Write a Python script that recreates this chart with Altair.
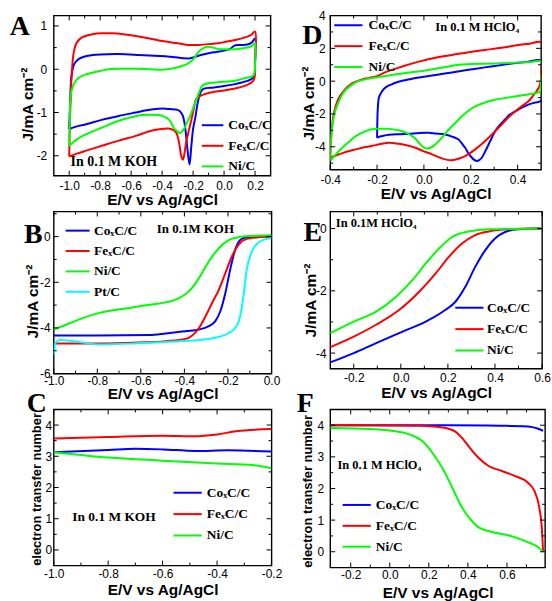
import altair as alt
import pandas as pd

NAMES3 = ["CoₓC/C", "FeₓC/C", "Ni/C"]
NAMES4 = ["CoₓC/C", "FeₓC/C", "Ni/C", "Pt/C"]
COLORS3 = ["#0000ff", "#ff0000", "#00ff00"]
COLORS4 = ["#0000ff", "#ff0000", "#00ff00", "#00ffff"]

XTITLE = "E/V vs Ag/AgCl"
JTITLE = "J/mA cm⁻²"
NTITLE = "electron transfer number"

# ---------------- Panel A : CV in 0.1 M KOH ----------------
A_CO_E = [-1.0, -0.994, -0.985, -0.968, -0.945, -0.926, -0.88, -0.8, -0.68, -0.55, -0.45, -0.35, -0.23, -0.2,
          -0.15, -0.1, -0.05, 0.0, 0.04, 0.064, 0.1, 0.15, 0.18, 0.2,
          0.2, 0.195, 0.18, 0.15, 0.1, 0.064, 0.0, -0.064, -0.13, -0.15, -0.17, -0.185, -0.2, -0.212, -0.223,
          -0.235, -0.245, -0.255, -0.266, -0.28, -0.3, -0.35, -0.4, -0.5, -0.57, -0.68, -0.79, -0.89, -0.95, -1.0]
A_CO_J = [-1.38, -0.77, -0.15, 0.115, 0.22, 0.26, 0.31, 0.34, 0.35, 0.33, 0.31, 0.29, 0.25, 0.27,
          0.33, 0.37, 0.4, 0.43, 0.47, 0.54, 0.56, 0.57, 0.62, 0.71,
          0.12, -0.15, -0.22, -0.27, -0.32, -0.35, -0.39, -0.42, -0.45, -0.52, -0.77, -1.1, -1.38, -1.8, -2.2,
          -1.9, -1.54, -1.25, -1.08, -0.99, -0.94, -0.92, -0.91, -0.95, -1.0, -1.08, -1.17, -1.27, -1.32, -1.38]
A_FE_E = [-1.0, -0.995, -0.985, -0.97, -0.95, -0.915, -0.85, -0.78, -0.72, -0.65, -0.57, -0.48, -0.4, -0.3,
          -0.23, -0.17, -0.1, -0.04, 0.02, 0.08, 0.13, 0.17, 0.2,
          0.2, 0.195, 0.18, 0.15, 0.1, 0.064, 0.0, -0.064, -0.13, -0.16, -0.18, -0.195, -0.21, -0.23, -0.245,
          -0.256, -0.266, -0.277, -0.287, -0.3, -0.31, -0.33, -0.36, -0.4, -0.47, -0.57, -0.68, -0.79, -0.89,
          -0.95, -1.0]
A_FE_J = [-2.02, -1.2, -0.2, 0.4, 0.62, 0.74, 0.81, 0.83, 0.83, 0.81, 0.77, 0.71, 0.65, 0.6,
          0.56, 0.56, 0.58, 0.6, 0.64, 0.68, 0.73, 0.78, 0.87,
          0.23, -0.22, -0.3, -0.36, -0.42, -0.45, -0.49, -0.52, -0.58, -0.63, -0.69, -0.9, -1.15, -1.45, -1.69,
          -1.95, -2.09, -2.0, -1.77, -1.55, -1.46, -1.4, -1.37, -1.38, -1.42, -1.54, -1.65, -1.77, -1.88,
          -1.95, -2.02]
A_NI_E = [-1.0, -0.996, -0.99, -0.975, -0.955, -0.936, -0.9, -0.85, -0.8, -0.745, -0.65, -0.57, -0.48, -0.4,
          -0.33, -0.277, -0.24, -0.21, -0.19, -0.17, -0.15, -0.128, -0.1, -0.07, -0.043, 0.0, 0.064, 0.11,
          0.15, 0.18, 0.2,
          0.2, 0.195, 0.18, 0.15, 0.1, 0.064, 0.0, -0.064, -0.11, -0.14, -0.155, -0.17, -0.19, -0.21, -0.235,
          -0.255, -0.272, -0.287, -0.3, -0.32, -0.34, -0.36, -0.39, -0.426, -0.48, -0.53, -0.6, -0.68, -0.79,
          -0.89, -0.95, -1.0]
A_NI_J = [-1.77, -1.2, -0.6, -0.38, -0.26, -0.19, -0.13, -0.08, -0.04, 0.0, 0.01, 0.01, 0.0, -0.01,
          0.02, 0.07, 0.12, 0.19, 0.27, 0.38, 0.45, 0.5, 0.52, 0.5, 0.47, 0.46, 0.46, 0.48,
          0.5, 0.54, 0.6,
          0.15, -0.1, -0.17, -0.19, -0.24, -0.27, -0.29, -0.31, -0.33, -0.38, -0.48, -0.62, -0.8, -1.0, -1.2,
          -1.35, -1.44, -1.48, -1.44, -1.38, -1.25, -1.15, -1.09, -1.06, -1.05, -1.06, -1.11, -1.19, -1.35,
          -1.5, -1.62, -1.77]

# ---------------- Panel D : CV in 0.1 M HClO4 ----------------
D_CO_E = [-0.2, -0.199, -0.197, -0.192, -0.18, -0.17, -0.155, -0.135, -0.115, -0.093, -0.06, -0.022, 0.05,
          0.12, 0.19, 0.26, 0.332, 0.39, 0.446, 0.5,
          0.5, 0.475, 0.446, 0.42, 0.39, 0.365, 0.346, 0.325, 0.304, 0.29, 0.276, 0.262, 0.247, 0.236, 0.226,
          0.215, 0.205, 0.19, 0.176, 0.162, 0.148, 0.12, 0.091, 0.05, 0.02, -0.02, -0.064, -0.1, -0.135, -0.16,
          -0.178, -0.192, -0.2]
D_CO_J = [-3.45, -2.6, -1.7, -1.0, -0.65, -0.46, -0.3, -0.18, -0.07, 0.02, 0.12, 0.22, 0.38,
          0.53, 0.69, 0.84, 0.99, 1.1, 1.19, 1.23,
          -1.19, -1.3, -1.43, -1.6, -1.84, -2.05, -2.34, -2.65, -3.05, -3.45, -3.86, -4.27, -4.67, -4.82, -4.87,
          -4.8, -4.67, -4.4, -4.06, -3.8, -3.56, -3.38, -3.25, -3.19, -3.15, -3.16, -3.21, -3.24, -3.25, -3.29,
          -3.35, -3.4, -3.45]
D_FE_E = [-0.4, -0.399, -0.397, -0.393, -0.388, -0.376, -0.362, -0.348, -0.33, -0.305, -0.27, -0.234, -0.2,
          -0.163, -0.093, -0.022, 0.049, 0.12, 0.19, 0.26, 0.332, 0.403, 0.45, 0.5,
          0.5, 0.499, 0.495, 0.488, 0.48, 0.465, 0.446, 0.42, 0.39, 0.36, 0.332, 0.304, 0.276, 0.248, 0.219,
          0.19, 0.176, 0.15, 0.127, 0.1, 0.07, 0.035, 0.0, -0.036, -0.07, -0.107, -0.149, -0.18, -0.206, -0.25,
          -0.291, -0.33, -0.362, -0.4]
D_FE_J = [-4.67, -4.2, -3.66, -2.9, -2.24, -1.5, -1.0, -0.7, -0.4, -0.12, 0.08, 0.2, 0.3,
          0.55, 0.89, 1.19, 1.43, 1.6, 1.76, 1.9, 2.04, 2.2, 2.28, 2.36,
          0.42, 0.1, -0.22, -0.45, -0.63, -0.9, -1.23, -1.5, -1.84, -2.22, -2.65, -3.05, -3.45, -3.82, -4.16,
          -4.45, -4.57, -4.72, -4.81, -4.8, -4.68, -4.46, -4.28, -4.06, -3.92, -3.82, -3.76, -3.82, -3.9, -4.02,
          -4.16, -4.3, -4.46, -4.67]
D_NI_E = [-0.4, -0.399, -0.397, -0.393, -0.388, -0.376, -0.362, -0.348, -0.33, -0.305, -0.28, -0.248, -0.2,
          -0.163, -0.1, -0.064, 0.0, 0.049, 0.1, 0.134, 0.162, 0.2, 0.26, 0.33, 0.403, 0.45, 0.5,
          0.5, 0.499, 0.495, 0.48, 0.46, 0.43, 0.39, 0.35, 0.304, 0.26, 0.219, 0.19, 0.162, 0.134, 0.106,
          0.085, 0.063, 0.045, 0.028, 0.015, 0.007, -0.005, -0.015, -0.03, -0.05, -0.07, -0.093, -0.12, -0.149,
          -0.18, -0.206, -0.23, -0.248, -0.27, -0.291, -0.312, -0.333, -0.355, -0.376, -0.4]
D_NI_J = [-4.87, -4.3, -3.66, -3.0, -2.44, -1.7, -1.2, -0.8, -0.48, -0.2, 0.0, 0.12, 0.24,
          0.32, 0.45, 0.53, 0.64, 0.76, 0.88, 0.97, 1.02, 1.04, 1.06, 1.09, 1.13, 1.16, 1.19,
          0.02, -0.3, -0.63, -0.72, -0.77, -0.85, -0.93, -1.02, -1.13, -1.3, -1.54, -1.8, -2.14, -2.55, -2.95,
          -3.3, -3.66, -3.9, -4.06, -4.1, -4.1, -4.0, -3.86, -3.6, -3.35, -3.18, -3.05, -2.97, -2.91,
          -2.9, -2.91, -2.95, -3.05, -3.18, -3.35, -3.6, -3.86, -4.15, -4.46, -4.87]

# ---------------- Panel B : LSV in 0.1 M KOH ----------------
B_CO_E = [-1.0, -0.8, -0.56, -0.485, -0.394, -0.333, -0.288, -0.258, -0.235, -0.212, -0.19, -0.167, -0.144,
          -0.114, -0.06, 0.0]
B_CO_J = [-4.33, -4.33, -4.31, -4.24, -4.14, -4.07, -3.92, -3.7, -3.27, -2.47, -1.45, -0.58, -0.15,
          -0.03, 0.0, 0.02]
B_FE_E = [-1.0, -0.79, -0.636, -0.485, -0.394, -0.364, -0.333, -0.303, -0.273, -0.242, -0.212, -0.182,
          -0.152, -0.114, -0.06, 0.0]
B_FE_J = [-4.68, -4.68, -4.65, -4.58, -4.48, -4.33, -4.0, -3.49, -2.91, -2.33, -1.6, -0.87,
          -0.36, -0.1, -0.03, 0.0]
B_NI_E = [-1.0, -0.94, -0.864, -0.79, -0.712, -0.636, -0.56, -0.485, -0.424, -0.379, -0.333, -0.288,
          -0.242, -0.197, -0.152, -0.09, 0.0]
B_NI_J = [-4.07, -3.85, -3.56, -3.34, -3.2, -3.1, -2.98, -2.88, -2.69, -2.4, -1.82, -1.09,
          -0.51, -0.15, -0.03, 0.03, 0.06]
B_PT_E = [-1.0, -0.992, -0.97, -0.91, -0.79, -0.636, -0.485, -0.333, -0.258, -0.197, -0.167, -0.144,
          -0.129, -0.114, -0.09, -0.06, -0.03, 0.0]
B_PT_J = [-5.16, -4.65, -4.53, -4.58, -4.72, -4.68, -4.61, -4.53, -4.43, -4.22, -4.0, -3.49,
          -2.62, -1.45, -0.65, -0.26, -0.12, -0.07]

# ---------------- Panel E : LSV in 0.1 M HClO4 ----------------
E_CO_E = [-0.3, -0.2, -0.105, 0.008, 0.106, 0.19, 0.232, 0.274, 0.316, 0.359, 0.4, 0.443, 0.5, 0.6]
E_CO_J = [-4.3, -4.0, -3.68, -3.31, -2.99, -2.61, -2.35, -1.87, -1.23, -0.69, -0.32, -0.11, -0.02, 0.0]
E_FE_E = [-0.3, -0.2, -0.105, -0.006, 0.078, 0.148, 0.204, 0.26, 0.316, 0.373, 0.457, 0.6]
E_FE_J = [-3.81, -3.47, -3.09, -2.61, -2.03, -1.44, -0.91, -0.48, -0.21, -0.09, -0.02, 0.0]
E_NI_E = [-0.3, -0.2, -0.105, -0.02, 0.05, 0.106, 0.162, 0.218, 0.288, 0.373, 0.6]
E_NI_J = [-3.36, -2.99, -2.67, -2.19, -1.65, -1.12, -0.64, -0.27, -0.09, -0.02, 0.0]

# ---------------- Panel C : n in 0.1 M KOH ----------------
C_CO_E = [-1.0, -0.8, -0.7, -0.6, -0.48, -0.36, -0.2]
C_CO_N = [3.13, 3.2, 3.24, 3.22, 3.17, 3.19, 3.15]
C_FE_E = [-1.0, -0.8, -0.6, -0.48, -0.4, -0.33, -0.2]
C_FE_N = [3.57, 3.62, 3.66, 3.64, 3.7, 3.8, 3.87]
C_NI_E = [-1.0, -0.8, -0.6, -0.4, -0.27, -0.24, -0.2]
C_NI_N = [3.13, 2.96, 2.86, 2.77, 2.72, 2.68, 2.62]

# ---------------- Panel F : n in 0.1 M HClO4 ----------------
F_CO_E = [-0.305, 0.0, 0.3, 0.5, 0.6, 0.68, 0.73, 0.76, 0.785]
F_CO_N = [4.0, 4.0, 4.0, 3.99, 3.98, 3.97, 3.94, 3.89, 3.82]
F_FE_E = [-0.305, 0.0, 0.15, 0.22, 0.268, 0.3, 0.336, 0.37, 0.403, 0.453, 0.504, 0.571, 0.639, 0.706,
          0.74, 0.765, 0.778, 0.785]
F_FE_N = [4.0, 3.99, 3.98, 3.96, 3.93, 3.89, 3.8, 3.6, 3.34, 2.98, 2.72, 2.56, 2.4, 2.19,
          1.93, 1.41, 0.8, 0.0]
F_NI_E = [-0.305, -0.1, 0.0, 0.1, 0.167, 0.218, 0.268, 0.319, 0.36, 0.403, 0.453, 0.52, 0.605, 0.672,
          0.723, 0.757, 0.785]
F_NI_N = [3.91, 3.88, 3.83, 3.71, 3.5, 3.13, 2.66, 2.04, 1.51, 1.1, 0.78, 0.63, 0.52, 0.39,
          0.26, 0.16, 0.0]

ONE = pd.DataFrame({"k": [0]})
LABX = "replace(format(datum.value, '.1f'), '\u2212', '-')"
LABY = "replace(format(datum.value, 'd'), '\u2212', '-')"
SERIF = "Liberation Serif"
SANS = "Liberation Sans"


def curves_df(names, xs_list, ys_list):
    rows = []
    for n, xs, ys in zip(names, xs_list, ys_list):
        for i, (a, b) in enumerate(zip(xs, ys)):
            rows.append({"s": n, "x": a, "y": b, "i": i})
    return pd.DataFrame(rows)


def panel(p):
    w, h = p["w"], p["h"]
    xsc = alt.Scale(domain=p["xdom"], nice=False, zero=False)
    ysc = alt.Scale(domain=p["ydom"], nice=False, zero=False)
    xax = alt.Axis(values=p["xmaj"], labelExpr=LABX, title=XTITLE, titleY=p["xty"],
                   titleBaseline="middle", labelPadding=p["xlp"], labelFlush=False,
                   labelOverlap=False)
    yax = alt.Axis(values=p["ymaj"], labelExpr=LABY, title=p["ytitle"], titleX=p["ytx"],
                   titleY=p["yty"], titleAngle=270, titleBaseline="middle", titleAlign="center",
                   titleFontSize=p["ytfs"], labelPadding=p["ylp"], labelFlush=False,
                   labelOverlap=False)
    df = curves_df(p["names"], p["xs"], p["ys"])
    k = p["leg_k"]
    legend = alt.Legend(title=None, orient="none", legendX=p["legX"], legendY=p["legY"],
                        symbolType=f"M-{k},0H{k}", symbolSize=64, symbolStrokeWidth=2,
                        labelOffset=p["legLO"], rowPadding=p["legRP"], padding=0,
                        labelFont=SERIF, labelFontWeight="bold", labelFontSize=13.5,
                        labelColor="black")
    lines = alt.Chart(df).mark_line(strokeWidth=2, interpolate=p["interp"], clip=True).encode(
        x=alt.X("x:Q", scale=xsc, axis=xax),
        y=alt.Y("y:Q", scale=ysc, axis=yax),
        color=alt.Color("s:N", scale=alt.Scale(domain=p["names"], range=p["colors"]), legend=legend),
        order=alt.Order("i:Q"),
    )
    layers = [lines]
    # inward tick marks on all four sides
    for vals, ln in ((p["xmaj"], 5), (p["xmin"], 3)):
        d = pd.DataFrame({"x": vals})
        base = alt.Chart(d).mark_rule(color="black", strokeWidth=1)
        layers.append(base.encode(x=alt.X("x:Q", scale=xsc, axis=xax), y=alt.value(h), y2=alt.value(h - ln)))
        layers.append(base.encode(x=alt.X("x:Q", scale=xsc, axis=xax), y=alt.value(0), y2=alt.value(ln)))
    for vals, ln in ((p["ymaj"], 5), (p["ymin"], 3)):
        d = pd.DataFrame({"y": vals})
        base = alt.Chart(d).mark_rule(color="black", strokeWidth=1)
        layers.append(base.encode(y=alt.Y("y:Q", scale=ysc, axis=yax), x=alt.value(0), x2=alt.value(ln)))
        layers.append(base.encode(y=alt.Y("y:Q", scale=ysc, axis=yax), x=alt.value(w - ln), x2=alt.value(w)))
    # condition note
    nt, nx, ny, nfs = p["note"]
    layers.append(alt.Chart(ONE).mark_text(text=nt, align="left", baseline="middle", font=SERIF,
                                          fontWeight="bold", fontSize=nfs, color="black")
                  .encode(x=alt.value(nx), y=alt.value(ny)))
    # panel letter
    lt, lx, ly = p["letter"]
    layers.append(alt.Chart(ONE).mark_text(text=lt, align="center", baseline="alphabetic", font=SERIF,
                                          fontWeight="bold", fontSize=28, color="black")
                  .encode(x=alt.value(lx), y=alt.value(ly)))
    return alt.layer(*layers).properties(width=w, height=h)


PA = dict(names=NAMES3, colors=COLORS3, xs=[A_CO_E, A_FE_E, A_NI_E], ys=[A_CO_J, A_FE_J, A_NI_J],
          xdom=[-1.1, 0.3], ydom=[-2.46, 1.24], w=218, h=161,
          xmaj=[-1.0, -0.8, -0.6, -0.4, -0.2, 0.0, 0.2], xmin=[-0.9, -0.7, -0.5, -0.3, -0.1, 0.1],
          ymaj=[1, 0, -1, -2], ymin=[0.5, -0.5, -1.5],
          ytitle=JTITLE, ytx=-26.5, yty=89, ytfs=15.5, ylp=7, xlp=4.5, xty=24,
          legX=153, legY=103.5, leg_k=2.71, legLO=9, legRP=5.7,
          note=("In 0.1 M KOH", 17, 147, 14), letter=("A", -34, 20), interp="catmull-rom")
PD = dict(names=NAMES3, colors=COLORS3, xs=[D_CO_E, D_FE_E, D_NI_E], ys=[D_CO_J, D_FE_J, D_NI_J],
          xdom=[-0.4, 0.5], ydom=[-5.4, 4.0], w=212, h=155,
          xmaj=[-0.4, -0.2, 0.0, 0.2, 0.4], xmin=[-0.3, -0.1, 0.1, 0.3],
          ymaj=[4, 2, 0, -2, -4], ymin=[3, 1, -1, -3, -5],
          ytitle=JTITLE, ytx=-22, yty=88, ytfs=15.5, ylp=5, xlp=4.5, xty=24,
          legX=11.5, legY=3, leg_k=3.54, legLO=13.5, legRP=6,
          note=("In 0.1 M HClO₄", 105.7, 12, 12.5), letter=("D", -18, 29), interp="catmull-rom")
PB = dict(names=NAMES4, colors=COLORS4, xs=[B_CO_E, B_FE_E, B_NI_E, B_PT_E], ys=[B_CO_J, B_FE_J, B_NI_J, B_PT_J],
          xdom=[-1.0, 0.0], ydom=[-6.0, 1.1], w=219, h=163,
          xmaj=[-1.0, -0.8, -0.6, -0.4, -0.2, 0.0], xmin=[-0.9, -0.7, -0.5, -0.3, -0.1],
          ymaj=[0, -2, -4, -6], ymin=[1, -1, -3, -5],
          ytitle=JTITLE, ytx=-21, yty=90, ytfs=15.5, ylp=3.7, xlp=1.5, xty=20,
          legX=17.3, legY=12.5, leg_k=3.0, legLO=9.7, legRP=5.5,
          note=("In 0.1M KOH", 103.7, 17.3, 13), letter=("B", -20.5, 32), interp="monotone")
PE = dict(names=NAMES3, colors=COLORS3, xs=[E_CO_E, E_FE_E, E_NI_E], ys=[E_CO_J, E_FE_J, E_NI_J],
          xdom=[-0.3, 0.6], ydom=[-4.5, 0.55], w=213, h=158,
          xmaj=[-0.2, 0.0, 0.2, 0.4, 0.6], xmin=[-0.1, 0.1, 0.3, 0.5],
          ymaj=[0, -2, -4], ymin=[-1, -3],
          ytitle=JTITLE, ytx=-20, yty=89, ytfs=15.5, ylp=4, xlp=3.5, xty=24,
          legX=133.2, legY=90, leg_k=3.54, legLO=10.9, legRP=6.5,
          note=("In 0.1M HClO₄", 5.7, 11.7, 12.5), letter=("E", -17.5, 30), interp="monotone")
PC = dict(names=NAMES3, colors=COLORS3, xs=[C_CO_E, C_FE_E, C_NI_E], ys=[C_CO_N, C_FE_N, C_NI_N],
          xdom=[-1.0, -0.2], ydom=[-0.5, 4.5], w=219, h=157,
          xmaj=[-1.0, -0.8, -0.6, -0.4, -0.2], xmin=[-0.9, -0.7, -0.5, -0.3],
          ymaj=[0, 1, 2, 3, 4], ymin=[0.5, 1.5, 2.5, 3.5],
          ytitle=NTITLE, ytx=-17, yty=80, ytfs=13, ylp=2, xlp=3.5, xty=24,
          legX=127.9, legY=77, leg_k=3.54, legLO=12.5, legRP=6.5,
          note=("In 0.1 M KOH", 18.7, 107.7, 13.5), letter=("C", -17, 3), interp="monotone")
PF = dict(names=NAMES3, colors=COLORS3, xs=[F_CO_E, F_FE_E, F_NI_E], ys=[F_CO_N, F_FE_N, F_NI_N],
          xdom=[-0.305, 0.795], ydom=[-0.5, 4.5], w=216, h=159,
          xmaj=[-0.2, 0.0, 0.2, 0.4, 0.6], xmin=[-0.1, 0.1, 0.3, 0.5, 0.7],
          ymaj=[0, 1, 2, 3, 4], ymin=[0.5, 1.5, 2.5, 3.5],
          ytitle=NTITLE, ytx=-23, yty=82, ytfs=13, ylp=6.7, xlp=2.5, xty=25,
          legX=19.9, legY=89.3, leg_k=3.54, legLO=12.5, legRP=6,
          note=("In 0.1 M HClO₄", 7.3, 56, 12.5), letter=("F", -25, 3), interp="monotone")

chart = alt.concat(
    panel(PA), panel(PD), panel(PB), panel(PE), panel(PC), panel(PF),
    columns=2, spacing={"row": 36, "column": 59}, bounds="flush",
).resolve_scale(
    x="independent", y="independent", color="independent"
).resolve_legend(
    color="independent"
).properties(
    padding={"left": 9, "top": 7, "right": 0, "bottom": 0}, background="white"
).configure_view(
    stroke="black", strokeWidth=1.4
).configure_axis(
    grid=False, domain=False, ticks=False, tickSize=0,
    labelFont=SANS, labelFontSize=12, labelColor="black",
    titleFont=SANS, titleFontWeight="bold", titleFontSize=15.5, titleColor="black",
)

chart.save("out.html", embed_options={"renderer": "svg", "actions": False})
